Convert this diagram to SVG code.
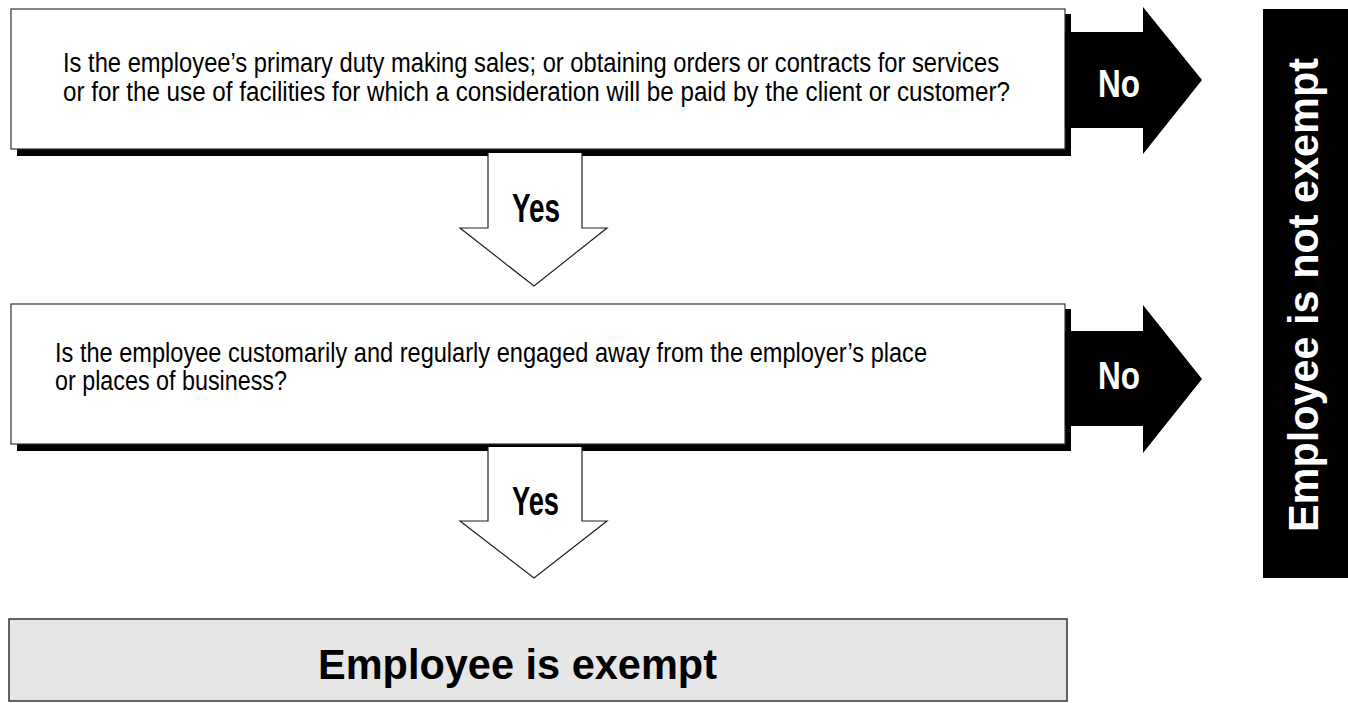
<svg xmlns="http://www.w3.org/2000/svg" width="1348" height="703" viewBox="0 0 1348 703">
  <style>
    .shadow { fill: #000; }
    .qbox { fill: #fff; stroke: #333; stroke-width: 1.2; }
    .qtext { font-family: "Liberation Sans Narrow", "Liberation Sans", Arial, sans-serif; font-size: 27px; fill: #000; }
    .yes-arrow { fill: #fff; stroke: #222; stroke-width: 1.2; }
    .no-arrow { fill: #000; }
    .label { font-family: "Liberation Sans Narrow", "Liberation Sans", Arial, sans-serif; font-weight: bold; }
    .result { font-family: "Liberation Sans", Arial, sans-serif; font-weight: bold; }
  </style>

  <!-- Question 1 -->
  <g id="question-sales">
    <rect class="shadow" x="17" y="14" width="1054" height="142"/>
    <rect class="qbox" x="11" y="9" width="1054" height="140"/>
    <text class="qtext" x="63" y="72" textLength="936" lengthAdjust="spacingAndGlyphs">Is the employee’s primary duty making sales; or obtaining orders or contracts for services</text>
    <text class="qtext" x="63" y="101" textLength="947" lengthAdjust="spacingAndGlyphs">or for the use of facilities for which a consideration will be paid by the client or customer?</text>
  </g>

  <!-- Question 2 -->
  <g id="question-away">
    <rect class="shadow" x="17" y="309" width="1054" height="142"/>
    <rect class="qbox" x="11" y="304" width="1054" height="140"/>
    <text class="qtext" x="55" y="362" textLength="872" lengthAdjust="spacingAndGlyphs">Is the employee customarily and regularly engaged away from the employer’s place</text>
    <text class="qtext" x="55" y="390" textLength="232" lengthAdjust="spacingAndGlyphs">or places of business?</text>
  </g>

  <!-- Result: exempt -->
  <g id="result-exempt">
    <rect x="9" y="619" width="1058" height="82" fill="#e6e6e6" stroke="#333" stroke-width="1.5"/>
    <text class="result" x="318" y="679" font-size="43" textLength="399" lengthAdjust="spacingAndGlyphs">Employee is exempt</text>
  </g>

  <!-- Result: not exempt -->
  <g id="result-not-exempt">
    <rect x="1263" y="9" width="85" height="569" fill="#000"/>
    <text class="result" transform="translate(1318 532) rotate(-90)" x="0" y="0" font-size="43" fill="#fff" textLength="474" lengthAdjust="spacingAndGlyphs">Employee is not exempt</text>
  </g>

  <!-- Connectors -->
  <g id="connectors">
    <g id="yes-1">
      <path class="yes-arrow" d="M488 153 L488 228 L460 228 L534 286 L607 228 L582 228 L582 153"/>
      <text class="label" x="512" y="222" font-size="40" textLength="48" lengthAdjust="spacingAndGlyphs">Yes</text>
    </g>
    <g id="yes-2">
      <path class="yes-arrow" d="M488 447 L488 521 L460 521 L534 578 L607 521 L582 521 L582 447"/>
      <text class="label" x="512" y="515" font-size="40" textLength="47" lengthAdjust="spacingAndGlyphs">Yes</text>
    </g>
    <g id="no-1">
      <path class="no-arrow" d="M1065 32 L1143 32 L1143 7 L1202 80 L1143 154 L1143 128 L1065 128 Z"/>
      <text class="label" x="1098" y="97" font-size="38" fill="#fff" textLength="42" lengthAdjust="spacingAndGlyphs">No</text>
    </g>
    <g id="no-2">
      <path class="no-arrow" d="M1065 331 L1143 331 L1143 305 L1202 379 L1143 453 L1143 426 L1065 426 Z"/>
      <text class="label" x="1098" y="389" font-size="38" fill="#fff" textLength="42" lengthAdjust="spacingAndGlyphs">No</text>
    </g>
  </g>
</svg>
